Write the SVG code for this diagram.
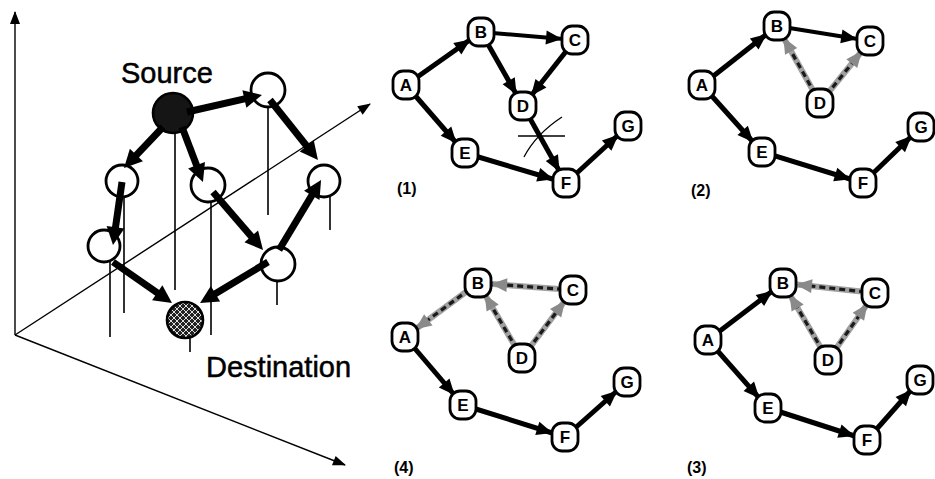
<svg xmlns="http://www.w3.org/2000/svg" width="935" height="479" viewBox="0 0 935 479">
<style>
text{font-family:"Liberation Sans",Arial,sans-serif;fill:#000}
.lbl{font-size:29px;stroke:#000;stroke-width:0.5}
.plbl{font-size:16px;font-weight:bold}
.node rect{fill:#fff;stroke:#000;stroke-width:2.8}
.node text{font-size:17px;font-weight:bold;text-anchor:middle}
.e{stroke:#000;stroke-width:5;fill:none;marker-end:url(#ah)}
.gb{stroke:#a0a0a0;stroke-width:6;fill:none}
.gd{stroke:#1a1a1a;stroke-width:3.2;stroke-dasharray:6 4;fill:none;marker-end:url(#ahg)}
.axis{stroke:#000;stroke-width:1.4;fill:none;marker-end:url(#axh)}
.drop{stroke:#000;stroke-width:1.6}
.e3{stroke:#000;stroke-width:7;fill:none;marker-end:url(#ah3)}
.c3{fill:none;stroke:#000;stroke-width:2.8}
</style>
<defs>
<marker id="ah" markerUnits="userSpaceOnUse" orient="auto" refX="29" refY="0" markerWidth="30" markerHeight="20" overflow="visible"><path d="M0,-7 L16,0 L0,7 z" fill="#000"/></marker>
<marker id="ahg" markerUnits="userSpaceOnUse" orient="auto" refX="29" refY="0" markerWidth="30" markerHeight="20" overflow="visible"><path d="M0,-7 L16,0 L0,7 z" fill="#8a8a8a"/></marker>
<marker id="ah3" markerUnits="userSpaceOnUse" orient="auto" refX="8" refY="0" markerWidth="20" markerHeight="20" overflow="visible"><path d="M0,-9 L18,0 L0,9 z" fill="#000"/></marker>
<marker id="axh" markerUnits="userSpaceOnUse" orient="auto" refX="12" refY="0" markerWidth="14" markerHeight="12" overflow="visible"><path d="M0,-5 L13,0 L0,5 z" fill="#000"/></marker>
<pattern id="hatch" patternUnits="userSpaceOnUse" width="6" height="6">
<rect width="6" height="6" fill="#222"/>
<path d="M0,6 L6,0 M0,0 L6,6" stroke="#ddd" stroke-width="1"/>
</pattern>
</defs>

<!-- 3D overview -->
<g id="axes">
<line class="axis" x1="15" y1="335" x2="15" y2="12"/>
<line class="axis" x1="15" y1="335" x2="370" y2="104"/>
<line class="axis" x1="15" y1="335" x2="345" y2="465"/>
</g>
<g id="drops">
<line class="drop" x1="175" y1="133" x2="175" y2="290"/>
<line class="drop" x1="268" y1="107" x2="268" y2="215"/>
<line class="drop" x1="330" y1="197" x2="330" y2="230"/>
<line class="drop" x1="124" y1="196" x2="124" y2="313"/>
<line class="drop" x1="211" y1="202" x2="211" y2="335"/>
<line class="drop" x1="110" y1="262" x2="110" y2="337"/>
<line class="drop" x1="277" y1="282" x2="277" y2="305"/>
<line class="drop" x1="190" y1="338" x2="190" y2="352"/>
</g>
<g id="n3-source"><circle cx="173" cy="113" r="20" fill="#151515" stroke="#000" stroke-width="2.6"/></g>
<g id="n3-tr"><circle class="c3" cx="268" cy="90" r="17"/></g>
<g id="n3-r"><circle class="c3" cx="324" cy="181" r="16"/></g>
<g id="n3-lu"><circle class="c3" cx="122" cy="181" r="16"/></g>
<g id="n3-c"><circle class="c3" cx="208" cy="185" r="17"/></g>
<g id="n3-ll"><circle class="c3" cx="104" cy="246" r="16"/></g>
<g id="n3-rl"><circle class="c3" cx="278" cy="264" r="17"/></g>
<g id="n3-dest"><circle cx="185" cy="320" r="18" fill="url(#hatch)" stroke="#000" stroke-width="2.6"/></g>
<g id="edges3d">
<line class="e3" x1="187" y1="112" x2="252.2" y2="97.2"/>
<line class="e3" x1="270" y1="100" x2="311.7" y2="152.2"/>
<line class="e3" x1="279" y1="250" x2="315.9" y2="188.6"/>
<line class="e3" x1="163" y1="127" x2="130.9" y2="160.8"/>
<line class="e3" x1="122" y1="182" x2="114.4" y2="235.1"/>
<line class="e3" x1="182" y1="127" x2="199.4" y2="172.7"/>
<line class="e3" x1="213" y1="192" x2="256.5" y2="242.4"/>
<line class="e3" x1="113" y1="262" x2="163.8" y2="297.3"/>
<line class="e3" x1="268" y1="262" x2="208.6" y2="297.8"/>
</g>
<text class="lbl" x="121" y="83">Source</text>
<text class="lbl" x="206" y="377">Destination</text>

<!-- Panel 1 -->
<g id="panel1">
<g id="p1-edges">
<line class="e" x1="406" y1="85" x2="481" y2="32"/>
<line class="e" x1="481" y1="32" x2="575" y2="40" style="stroke-width:4"/>
<line class="e" x1="481" y1="32" x2="523" y2="106"/>
<line class="e" x1="575" y1="40" x2="523" y2="106"/>
<line class="e" x1="523" y1="106" x2="566" y2="183"/>
<line class="e" x1="406" y1="85" x2="465" y2="153"/>
<line class="e" x1="465" y1="153" x2="566" y2="183"/>
<line class="e" x1="566" y1="183" x2="628" y2="126"/>
<line x1="518" y1="136" x2="565" y2="136" stroke="#000" stroke-width="1.3"/>
<path d="M524,157 Q536,134 562,117" fill="none" stroke="#000" stroke-width="1.3"/>
</g>
<g id="p1-A" class="node" transform="translate(406,85)"><rect x="-13" y="-14" width="26" height="28" rx="10"/><text y="6">A</text></g>
<g id="p1-B" class="node" transform="translate(481,32)"><rect x="-13" y="-14" width="26" height="28" rx="10"/><text y="6">B</text></g>
<g id="p1-C" class="node" transform="translate(575,40)"><rect x="-13" y="-14" width="26" height="28" rx="10"/><text y="6">C</text></g>
<g id="p1-D" class="node" transform="translate(523,106)"><rect x="-13" y="-14" width="26" height="28" rx="10"/><text y="6">D</text></g>
<g id="p1-E" class="node" transform="translate(465,153)"><rect x="-13" y="-14" width="26" height="28" rx="10"/><text y="6">E</text></g>
<g id="p1-F" class="node" transform="translate(566,183)"><rect x="-13" y="-14" width="26" height="28" rx="10"/><text y="6">F</text></g>
<g id="p1-G" class="node" transform="translate(628,126)"><rect x="-13" y="-14" width="26" height="28" rx="10"/><text y="6">G</text></g>
<text class="plbl" x="397" y="194">(1)</text>
</g>

<!-- Panel 2 -->
<g id="panel2">
<g id="p2-edges">
<line class="e" x1="702" y1="85" x2="777" y2="26"/>
<line class="e" x1="777" y1="26" x2="870" y2="41" style="stroke-width:3.8"/>
<line class="gb" x1="820" y1="103" x2="777" y2="26"/>
<line class="gd" x1="820" y1="103" x2="777" y2="26"/>
<line class="gb" x1="820" y1="103" x2="870" y2="41"/>
<line class="gd" x1="820" y1="103" x2="870" y2="41"/>
<line class="e" x1="702" y1="85" x2="762" y2="152"/>
<line class="e" x1="762" y1="152" x2="863" y2="183"/>
<line class="e" x1="863" y1="183" x2="921" y2="127"/>
</g>
<g id="p2-A" class="node" transform="translate(702,85)"><rect x="-13" y="-14" width="26" height="28" rx="10"/><text y="6">A</text></g>
<g id="p2-B" class="node" transform="translate(777,26)"><rect x="-13" y="-14" width="26" height="28" rx="10"/><text y="6">B</text></g>
<g id="p2-C" class="node" transform="translate(870,41)"><rect x="-13" y="-14" width="26" height="28" rx="10"/><text y="6">C</text></g>
<g id="p2-D" class="node" transform="translate(820,103)"><rect x="-13" y="-14" width="26" height="28" rx="10"/><text y="6">D</text></g>
<g id="p2-E" class="node" transform="translate(762,152)"><rect x="-13" y="-14" width="26" height="28" rx="10"/><text y="6">E</text></g>
<g id="p2-F" class="node" transform="translate(863,183)"><rect x="-13" y="-14" width="26" height="28" rx="10"/><text y="6">F</text></g>
<g id="p2-G" class="node" transform="translate(921,127)"><rect x="-13" y="-14" width="26" height="28" rx="10"/><text y="6">G</text></g>
<text class="plbl" x="691" y="196">(2)</text>
</g>

<!-- Panel 4 -->
<g id="panel4">
<g id="p4-edges">
<line class="gb" x1="478" y1="283" x2="405" y2="337"/>
<line class="gd" x1="478" y1="283" x2="405" y2="337"/>
<line class="gb" x1="573" y1="290" x2="478" y2="283"/>
<line class="gd" x1="573" y1="290" x2="478" y2="283"/>
<line class="gb" x1="522" y1="358" x2="478" y2="283"/>
<line class="gd" x1="522" y1="358" x2="478" y2="283"/>
<line class="gb" x1="522" y1="358" x2="573" y2="290"/>
<line class="gd" x1="522" y1="358" x2="573" y2="290"/>
<line class="e" x1="405" y1="337" x2="463" y2="405"/>
<line class="e" x1="463" y1="405" x2="565" y2="437"/>
<line class="e" x1="565" y1="437" x2="627" y2="382"/>
</g>
<g id="p4-A" class="node" transform="translate(405,337)"><rect x="-13" y="-14" width="26" height="28" rx="10"/><text y="6">A</text></g>
<g id="p4-B" class="node" transform="translate(478,283)"><rect x="-13" y="-14" width="26" height="28" rx="10"/><text y="6">B</text></g>
<g id="p4-C" class="node" transform="translate(573,290)"><rect x="-13" y="-14" width="26" height="28" rx="10"/><text y="6">C</text></g>
<g id="p4-D" class="node" transform="translate(522,358)"><rect x="-13" y="-14" width="26" height="28" rx="10"/><text y="6">D</text></g>
<g id="p4-E" class="node" transform="translate(463,405)"><rect x="-13" y="-14" width="26" height="28" rx="10"/><text y="6">E</text></g>
<g id="p4-F" class="node" transform="translate(565,437)"><rect x="-13" y="-14" width="26" height="28" rx="10"/><text y="6">F</text></g>
<g id="p4-G" class="node" transform="translate(627,382)"><rect x="-13" y="-14" width="26" height="28" rx="10"/><text y="6">G</text></g>
<text class="plbl" x="394" y="473">(4)</text>
</g>

<!-- Panel 3 -->
<g id="panel3">
<g id="p3-edges">
<line class="e" x1="708" y1="340" x2="783" y2="283"/>
<line class="gb" x1="875" y1="293" x2="783" y2="283"/>
<line class="gd" x1="875" y1="293" x2="783" y2="283"/>
<line class="gb" x1="828" y1="360" x2="783" y2="283"/>
<line class="gd" x1="828" y1="360" x2="783" y2="283"/>
<line class="gb" x1="828" y1="360" x2="875" y2="293"/>
<line class="gd" x1="828" y1="360" x2="875" y2="293"/>
<line class="e" x1="708" y1="340" x2="768" y2="408"/>
<line class="e" x1="768" y1="408" x2="867" y2="440"/>
<line class="e" x1="867" y1="440" x2="920" y2="380"/>
</g>
<g id="p3-A" class="node" transform="translate(708,340)"><rect x="-13" y="-14" width="26" height="28" rx="10"/><text y="6">A</text></g>
<g id="p3-B" class="node" transform="translate(783,283)"><rect x="-13" y="-14" width="26" height="28" rx="10"/><text y="6">B</text></g>
<g id="p3-C" class="node" transform="translate(875,293)"><rect x="-13" y="-14" width="26" height="28" rx="10"/><text y="6">C</text></g>
<g id="p3-D" class="node" transform="translate(828,360)"><rect x="-13" y="-14" width="26" height="28" rx="10"/><text y="6">D</text></g>
<g id="p3-E" class="node" transform="translate(768,408)"><rect x="-13" y="-14" width="26" height="28" rx="10"/><text y="6">E</text></g>
<g id="p3-F" class="node" transform="translate(867,440)"><rect x="-13" y="-14" width="26" height="28" rx="10"/><text y="6">F</text></g>
<g id="p3-G" class="node" transform="translate(920,380)"><rect x="-13" y="-14" width="26" height="28" rx="10"/><text y="6">G</text></g>
<text class="plbl" x="687" y="473">(3)</text>
</g>
</svg>
